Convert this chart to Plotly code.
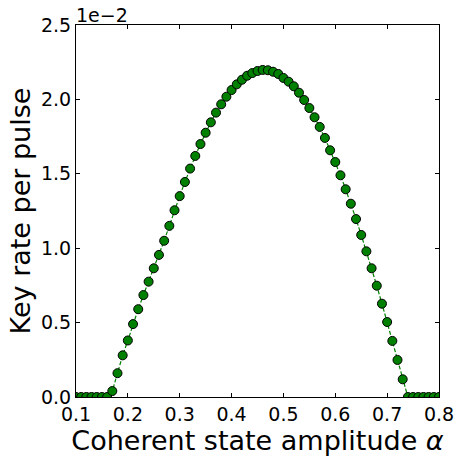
import plotly.graph_objects as go

# Coherent state amplitude (x) and key rate per pulse in units of 1e-2 (y)
alpha = [0.10, 0.11, 0.12, 0.13, 0.14, 0.15, 0.16, 0.17, 0.18, 0.19,
         0.20, 0.21, 0.22, 0.23, 0.24, 0.25, 0.26, 0.27, 0.28, 0.29,
         0.30, 0.31, 0.32, 0.33, 0.34, 0.35, 0.36, 0.37, 0.38, 0.39,
         0.40, 0.41, 0.42, 0.43, 0.44, 0.45, 0.46, 0.47, 0.48, 0.49,
         0.50, 0.51, 0.52, 0.53, 0.54, 0.55, 0.56, 0.57, 0.58, 0.59,
         0.60, 0.61, 0.62, 0.63, 0.64, 0.65, 0.66, 0.67, 0.68, 0.69,
         0.70, 0.71, 0.72, 0.73, 0.74, 0.75, 0.76, 0.77, 0.78, 0.79,
         0.80]
key_rate_e2 = [0.0, 0.0, 0.0, 0.0, 0.0, 0.0, 0.0, 0.04, 0.16, 0.28,
               0.38, 0.49, 0.59, 0.685, 0.775, 0.865, 0.955, 1.05, 1.15, 1.255,
               1.35, 1.445, 1.535, 1.62, 1.70, 1.776, 1.846, 1.911, 1.967, 2.018,
               2.063, 2.101, 2.132, 2.159, 2.177, 2.191, 2.198, 2.196, 2.186, 2.171,
               2.144, 2.119, 2.088, 2.045, 1.996, 1.942, 1.880, 1.815, 1.741, 1.658,
               1.579, 1.490, 1.396, 1.299, 1.196, 1.089, 0.979, 0.865, 0.748, 0.627,
               0.504, 0.377, 0.249, 0.119, 0.0, 0.0, 0.0, 0.0, 0.0, 0.0,
               0.0]
x_ticks = [0.1, 0.2, 0.3, 0.4, 0.5, 0.6, 0.7, 0.8]
y_ticks = [0.0, 0.5, 1.0, 1.5, 2.0, 2.5]
offset_label = "1e\u22122"

FONT = "DejaVu Sans"

fig = go.Figure()
fig.add_trace(go.Scatter(
    x=alpha, y=key_rate_e2, mode="lines+markers",
    line=dict(color="#008000", width=1.2, dash="4px,2px"),
    marker=dict(size=9, color="#008000", line=dict(color="black", width=1)),
    cliponaxis=True, showlegend=False,
))

axis_common = dict(
    showline=True, linecolor="black", linewidth=1, mirror="ticks",
    ticks="inside", ticklen=4, tickwidth=1, tickcolor="black",
    showgrid=False, zeroline=False, automargin=False,
    tickfont=dict(family=FONT, size=19, color="black"),
)

fig.update_xaxes(
    range=[0.1, 0.8], tickvals=x_ticks, tickformat=".1f",
    title=dict(text="Coherent state amplitude <i>α</i>",
               font=dict(family=FONT, size=27, color="black"), standoff=0),
    **axis_common,
)
fig.update_yaxes(
    range=[0.0, 2.5], tickvals=y_ticks, tickformat=".1f",
    title=dict(text="Key rate per pulse",
               font=dict(family=FONT, size=27, color="black"), standoff=2),
    **axis_common,
)

fig.add_annotation(
    x=0, y=1, xref="paper", yref="paper", xanchor="left", yanchor="bottom",
    text=offset_label, showarrow=False, font=dict(family=FONT, size=19, color="black"),
    xshift=-2, yshift=-3,
)

fig.update_layout(
    width=457, height=456,
    margin=dict(l=76, r=18, t=25, b=59),
    paper_bgcolor="white", plot_bgcolor="white",
    font=dict(family=FONT, color="black"),
)

fig.write_html("out.html")
